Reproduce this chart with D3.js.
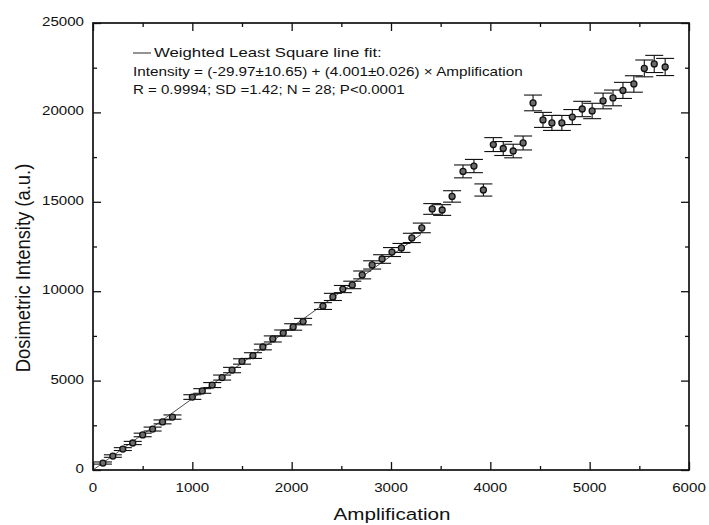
<!DOCTYPE html>
<html>
<head>
<meta charset="utf-8">
<script src="https://cdn.jsdelivr.net/npm/d3@7/dist/d3.min.js"></script>
<style>
  html, body { margin: 0; padding: 0; background: #fff; }
  svg { display: block; }
  text { font-family: "Liberation Sans", Arial, Helvetica, sans-serif; fill: #111; }
</style>
</head>
<body>
<svg id="chart" width="709" height="525"></svg>
<script>
// Measured dosimetric intensity versus amplification
const amplification = [
  100, 200, 300, 400, 500, 600, 700, 800,
  1000, 1100, 1200, 1300, 1400, 1500, 1610, 1710, 1810, 1915, 2015, 2115,
  2315, 2415, 2515, 2610, 2710, 2810, 2910, 3010, 3105, 3210,
  3310, 3415, 3515, 3615, 3725, 3835, 3930, 4030, 4130, 4230, 4330,
  4430, 4530, 4620, 4720, 4825, 4925, 5025, 5135, 5235, 5335, 5445, 5550, 5650, 5760
];
const intensity = [
  390, 780, 1170, 1510, 1960, 2290, 2690, 2960,
  4080, 4420, 4750, 5170, 5590, 6070, 6400, 6880, 7330, 7660, 8000, 8300,
  9170, 9680, 10120, 10350, 10910, 11470, 11800, 12190, 12420, 12980,
  13540, 14600, 14540, 15300, 16700, 17000, 15660, 18200, 17980, 17840, 18290,
  20530, 19580, 19410, 19410, 19740, 20190, 20080, 20640, 20810, 21230, 21590, 22460, 22710, 22540
];
const intensityErr = [
  60, 70, 80, 90, 100, 110, 110, 120,
  130, 130, 140, 140, 150, 150, 160, 160, 170, 170, 180, 180,
  190, 200, 200, 210, 220, 230, 240, 250, 250, 260,
  270, 300, 300, 320, 360, 370, 340, 390, 390, 380, 390,
  440, 420, 420, 420, 420, 430, 430, 440, 440, 450, 460, 470, 480, 480
];

// Weighted least-squares fit
const fitIntercept = -29.97;
const fitSlope = 4.001;
const fitRange = [0, 3300];

// Axis ticks
const xMajorTicks = [0, 1000, 2000, 3000, 4000, 5000, 6000];
const xMinorTicks = [500, 1500, 2500, 3500, 4500, 5500];
const yMajorTicks = [0, 5000, 10000, 15000, 20000, 25000];
const yMinorTicks = [2500, 7500, 12500, 17500, 22500];

const legendLines = [
  "Weighted Least Square line fit:",
  "Intensity = (-29.97\u00b110.65) + (4.001\u00b10.026) \u00d7 Amplification",
  "R = 0.9994; SD =1.42; N = 28; P<0.0001"
];

const svg = d3.select("#chart");
const plotLeft = 93, plotRight = 689, plotTop = 23, plotBottom = 470;

const x = d3.scaleLinear().domain([0, 6000]).range([plotLeft, plotRight]);
const y = d3.scaleLinear().domain([0, 25000]).range([plotBottom, plotTop]);

const data = amplification.map((a, i) => ({ a, v: intensity[i], e: intensityErr[i] }));

// horizontal stretch of the lettering
const stretch = 1.2;

// ticks on all four sides, pointing inward
function drawAxis(axis, transform) {
  const g = svg.append("g").attr("transform", transform).call(axis);
  g.select(".domain").remove();
  g.selectAll("line").attr("stroke", "#111").attr("stroke-width", 1.3);
  g.selectAll("text").remove();
  return g;
}
drawAxis(d3.axisBottom(x).tickValues(xMajorTicks).tickSize(-8), `translate(0,${plotBottom})`);
drawAxis(d3.axisBottom(x).tickValues(xMinorTicks).tickSize(-4), `translate(0,${plotBottom})`);
drawAxis(d3.axisTop(x).tickValues(xMajorTicks).tickSize(-8), `translate(0,${plotTop})`);
drawAxis(d3.axisTop(x).tickValues(xMinorTicks).tickSize(-4), `translate(0,${plotTop})`);
drawAxis(d3.axisLeft(y).tickValues(yMajorTicks).tickSize(-8), `translate(${plotLeft},0)`);
drawAxis(d3.axisLeft(y).tickValues(yMinorTicks).tickSize(-4), `translate(${plotLeft},0)`);
drawAxis(d3.axisRight(y).tickValues(yMajorTicks).tickSize(-8), `translate(${plotRight},0)`);
drawAxis(d3.axisRight(y).tickValues(yMinorTicks).tickSize(-4), `translate(${plotRight},0)`);

// frame
svg.append("rect")
  .attr("x", x(0)).attr("y", y(25000))
  .attr("width", x(6000) - x(0)).attr("height", y(0) - y(25000))
  .attr("fill", "none").attr("stroke", "#111").attr("stroke-width", 1.7);

// tick labels
svg.append("g").selectAll("g").data(xMajorTicks).join("g")
  .attr("transform", d => `translate(${x(d)},492) scale(${stretch},1)`)
  .append("text").attr("text-anchor", "middle").attr("font-size", 12.6)
  .text(d => d);
svg.append("g").selectAll("g").data(yMajorTicks).join("g")
  .attr("transform", d => `translate(84,${y(d) + 3}) scale(${stretch},1)`)
  .append("text").attr("text-anchor", "end").attr("font-size", 12.6)
  .text(d => d);

// axis titles
svg.append("g").attr("transform", `translate(392,520) scale(${stretch},1)`)
  .append("text").attr("text-anchor", "middle").attr("font-size", 17.2)
  .text("Amplification");
svg.append("g").attr("transform", `translate(30,268) rotate(-90) scale(1.07,${stretch})`)
  .append("text").attr("text-anchor", "middle").attr("font-size", 17.2)
  .text("Dosimetric Intensity (a.u.)");

// fitted line
svg.append("line")
  .attr("x1", x(fitRange[0])).attr("y1", y(Math.max(0, fitIntercept + fitSlope * fitRange[0])))
  .attr("x2", x(fitRange[1])).attr("y2", y(fitIntercept + fitSlope * fitRange[1]))
  .attr("stroke", "#222").attr("stroke-width", 0.8);

// error bars
const capHalf = 9;
const bars = svg.append("g").attr("stroke", "#111").attr("stroke-width", 1.1);
bars.selectAll(".v").data(data).join("line")
  .attr("x1", d => x(d.a)).attr("x2", d => x(d.a))
  .attr("y1", d => y(d.v - d.e)).attr("y2", d => y(d.v + d.e));
bars.selectAll(".t").data(data).join("line")
  .attr("x1", d => x(d.a) - capHalf).attr("x2", d => x(d.a) + capHalf)
  .attr("y1", d => y(d.v + d.e)).attr("y2", d => y(d.v + d.e));
bars.selectAll(".b").data(data).join("line")
  .attr("x1", d => x(d.a) - capHalf).attr("x2", d => x(d.a) + capHalf)
  .attr("y1", d => y(d.v - d.e)).attr("y2", d => y(d.v - d.e));

// markers
svg.append("g").selectAll("circle").data(data).join("circle")
  .attr("cx", d => x(d.a)).attr("cy", d => y(d.v)).attr("r", 3)
  .attr("fill", "#6a6a6a").attr("stroke", "#111").attr("stroke-width", 1.3);

// legend
svg.append("line").attr("x1", 133).attr("x2", 151).attr("y1", 53).attr("y2", 53)
  .attr("stroke", "#111").attr("stroke-width", 0.9);
const legendLayout = [
  { x: 154, y: 57, w: 228 },
  { x: 133, y: 75.5, w: 390 },
  { x: 133, y: 94, w: 272 }
];
legendLines.forEach((t, i) => {
  const L = legendLayout[i];
  const g = svg.append("g");
  const txt = g.append("text").attr("font-size", 13).text(t);
  const s = L.w / txt.node().getComputedTextLength();
  g.attr("transform", `translate(${L.x},${L.y}) scale(${s},1)`);
});
</script>
</body>
</html>
